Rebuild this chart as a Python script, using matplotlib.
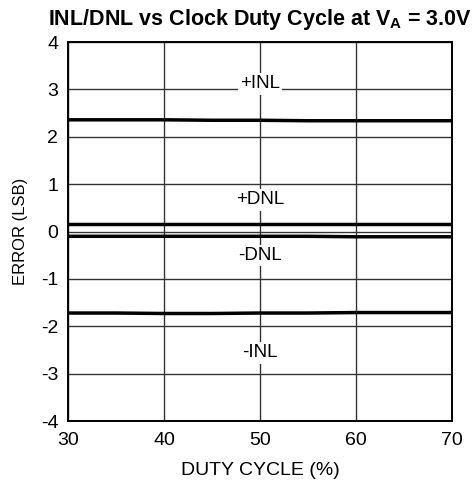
import numpy as np
import matplotlib.pyplot as plt

plt.rcParams['font.family'] = ['Liberation Sans', 'DejaVu Sans']
plt.rcParams['axes.unicode_minus'] = False

# Data
duty = np.array([30, 35, 40, 45, 50, 55, 60, 65, 70])
pos_inl = np.array([2.36, 2.36, 2.36, 2.35, 2.35, 2.34, 2.34, 2.34, 2.34])
pos_dnl = np.array([0.15, 0.15, 0.15, 0.15, 0.15, 0.15, 0.15, 0.15, 0.15])
neg_dnl = np.array([-0.10, -0.10, -0.10, -0.10, -0.10, -0.10, -0.11, -0.11, -0.11])
neg_inl = np.array([-1.72, -1.72, -1.73, -1.73, -1.72, -1.72, -1.71, -1.71, -1.71])

labels = ["+INL", "+DNL", "-DNL", "-INL"]
label_y = [3.03, 0.58, -0.60, -2.65]

fig = plt.figure(figsize=(4.74, 4.87), dpi=100)
ax = fig.add_axes([0.1435, 0.1355, 0.81, 0.778])

for y in [pos_inl, pos_dnl, neg_dnl, neg_inl]:
    ax.plot(duty, y, color='black', lw=2.5, zorder=3)

for lab, ly in zip(labels, label_y):
    ax.text(50, ly, lab, ha='center', va='baseline', fontsize=13.5, zorder=4,
            bbox=dict(facecolor='white', edgecolor='none', pad=1.8))

ax.set_xlim(30, 70)
ax.set_ylim(-4, 4)
ax.set_xticks([30, 40, 50, 60, 70])
ax.set_yticks(range(-4, 5))
ax.grid(True, color='#333333', lw=1.0)
ax.tick_params(length=0, labelsize=14)
ax.tick_params(axis='x', pad=8)
ax.tick_params(axis='y', pad=7)
for s in ax.spines.values():
    s.set_linewidth(1.4)

ax.set_xlabel('DUTY CYCLE (%)', fontsize=14, labelpad=9)
ax.set_ylabel('ERROR (LSB)', fontsize=12, labelpad=9)
ax.set_title('INL/DNL vs Clock Duty Cycle at V$_\\mathregular{A}$ = 3.0V',
             fontsize=15.5, fontweight='bold', pad=12)

fig.savefig('out.png', dpi=100)
